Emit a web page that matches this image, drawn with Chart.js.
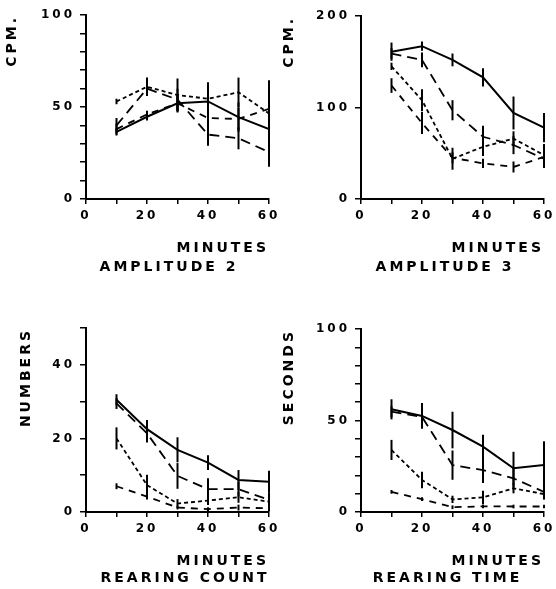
<!DOCTYPE html>
<html>
<head>
<meta charset="utf-8">
<script src="https://cdn.jsdelivr.net/npm/chart.js@4.4.1/dist/chart.umd.min.js"></script>
<style>
  html, body { margin: 0; padding: 0; background: #fff; overflow: hidden; width: 556px; height: 589px; }
  canvas { position: absolute; }
</style>
</head>
<body>
<canvas id="c1" width="338" height="290" style="left:0px;top:0px;width:338px;height:290px"></canvas>
<canvas id="c2" width="334" height="290" style="left:278px;top:0px;width:334px;height:290px"></canvas>
<canvas id="c3" width="370" height="299" style="left:0px;top:290px;width:370px;height:299px"></canvas>
<canvas id="c4" width="339" height="299" style="left:278px;top:290px;width:339px;height:299px"></canvas>
<script>
// ---- data ----
const minutes = [10, 20, 30, 40, 50, 60];
const xTickLabels = [0, 20, 40, 60];

// Amplitude 2 (CPM.)
const amp2Solid  = [36.5, 44.7, 52, 53, 44.5, 38];
const amp2SolidErr = [2, 2, 5, 6, 8, 12];
const amp2Long   = [40, 60, 54, 35, 33, 25.5];
const amp2LongErr = [4, 4, 6, 6, 6, 8];
const amp2Short  = [53, 61, 56.5, 54.5, 58, 46.5];
const amp2ShortErr = [1.5, 5, 9, 9, 8, 18];
const amp2Mid    = [38, 46, 52, 44, 43.5, 49];
const amp2MidErr = [3, 2, 4, 6, 6, 4];
const amp2YTicks = [0, 50, 100];

// Amplitude 3 (CPM.)
const amp3Solid  = [161, 167, 152, 133, 94, 78];
const amp3SolidErr = [10, 5, 7, 10, 18, 16];
const amp3Long   = [159, 152, 97, 68, 59, 44];
const amp3LongErr = [6, 8, 11, 12, 10, 10];
const amp3Short  = [145, 108, 44, 57, 66, 48];
const amp3ShortErr = [4, 12, 12, 10, 8, 12];
const amp3Mid    = [124, 83, 45, 39, 35, 46];
const amp3MidErr = [8, 12, 6, 5, 6, 8];
const amp3YTicks = [0, 100, 200];

// Rearing count (NUMBERS)
const countSolid  = [30.5, 22.5, 16.9, 13.4, 8.7, 8.2];
const countSolidErr = [1.5, 2.5, 3.4, 2, 2.7, 3];
const countLong   = [29.5, 21.4, 9.8, 6.2, 6.2, 3.3];
const countLongErr = [1.5, 2.5, 3.5, 3, 2, 2];
const countShort  = [20, 7.3, 2.3, 3.1, 4, 2.8];
const countShortErr = [3, 2.8, 1.2, 1.2, 1.5, 1.5];
const countMid    = [7, 4.2, 1.2, 0.8, 1.2, 1];
const countMidErr = [0.8, 0.8, 0.5, 0.5, 0.8, 0.8];
const countYTicks = [0, 20, 40];

// Rearing time (SECONDS)
const timeSolid  = [56.1, 52.5, 44.8, 35.7, 23.9, 25.7];
const timeSolidErr = [5.5, 7, 10, 6.5, 9, 13];
const timeLong   = [54.8, 52, 25.6, 22.9, 18.4, 11];
const timeLongErr = [3, 5, 8, 7, 6, 4];
const timeShort  = [33.9, 17.5, 6.9, 8, 12.9, 9.8];
const timeShortErr = [5.5, 4.5, 2, 3.6, 2.7, 3];
const timeMid    = [11, 7, 2.6, 3.1, 3, 3];
const timeMidErr = [1, 1, 1, 1, 1, 1];
const timeYTicks = [0, 50, 100];

// ---- plugins ----
const SPACING = '3px';
const spacingPlugin = {
  id: 'spacing',
  beforeUpdate(chart) { chart.ctx.letterSpacing = SPACING; },
  beforeDraw(chart) { chart.ctx.letterSpacing = SPACING; }
};
const errorBarPlugin = {
  id: 'errorBars',
  afterDatasetsDraw(chart) {
    const { ctx, scales } = chart;
    const xs = scales.x, ys = scales.y;
    ctx.save();
    ctx.strokeStyle = '#000';
    ctx.lineWidth = 2;
    ctx.setLineDash([]);
    chart.data.datasets.forEach(ds => {
      if (!ds.errors) return;
      ds.data.forEach((p, j) => {
        const e = ds.errors[j];
        const px = xs.getPixelForValue(p.x);
        ctx.beginPath();
        ctx.moveTo(px, ys.getPixelForValue(Math.max(0, p.y - e)));
        ctx.lineTo(px, ys.getPixelForValue(p.y + e));
        ctx.stroke();
      });
    });
    ctx.restore();
  }
};

const FONT = "'DejaVu Sans', sans-serif";
const styles = {
  solid: { borderWidth: 2, borderDash: [] },
  long:  { borderWidth: 1.8, borderDash: [10, 6] },
  short: { borderWidth: 1.8, borderDash: [4, 3] },
  mid:   { borderWidth: 1.8, borderDash: [7, 6] }
};
function pts(vals) { return minutes.map((m, i) => ({ x: m, y: vals[i] })); }
function ds(vals, errs, style) {
  return Object.assign({ data: pts(vals), errors: errs, yAxisID: 'y', xAxisID: 'x', borderColor: '#000',
    pointRadius: 0, fill: false, tension: 0, borderCapStyle: 'butt' }, styles[style]);
}

function makePanel(id, p) {
  new Chart(document.getElementById(id), {
    type: 'line',
    data: { datasets: [
      ds(p.solid, p.solidErr, 'solid'),
      ds(p.long, p.longErr, 'long'),
      ds(p.short, p.shortErr, 'short'),
      ds(p.mid, p.midErr, 'mid')
    ]},
    options: {
      responsive: false,
      animation: false,
      devicePixelRatio: 1,
      layout: { padding: { top: p.padTop, left: 0, right: 0, bottom: 0 } },
      plugins: {
        legend: { display: false },
        tooltip: { enabled: false },
        title: {
          display: true, text: p.caption, position: 'bottom', align: 'center',
          color: '#000', font: { family: FONT, size: 14, weight: 'bold' },
          padding: { top: 0, bottom: p.capPadBottom }
        }
      },
      scales: {
        x: {
          type: 'linear', min: 0, max: 60,
          afterFit(s) { s.height = p.xHeight; },
          border: { display: true, color: '#000', width: 2 },
          grid: { drawOnChartArea: false, drawTicks: true, tickLength: 5, color: '#000', lineWidth: 1.5 },
          ticks: {
            stepSize: 10, color: '#000', padding: 5, maxRotation: 0,
            font: { family: FONT, size: 12, weight: 'bold' },
            callback: v => xTickLabels.includes(v) ? String(v) : ''
          },
          title: { display: true, text: 'MINUTES', align: 'end', color: '#000',
            font: { family: FONT, size: 14, weight: 'bold' }, padding: { top: 0, bottom: p.xTitlePad } }
        },
        y: {
          type: 'linear', position: 'left', min: 0, max: p.yMax,
          afterFit(s) { s.width = p.yWidth; },
          border: { display: true, color: '#000', width: 2 },
          grid: { drawOnChartArea: false, drawTicks: true, tickLength: 6, color: '#000', lineWidth: 1.5 },
          ticks: {
            stepSize: p.yStep, color: '#000', padding: 5,
            font: { family: FONT, size: 12, weight: 'bold' },
            callback: v => p.yLabels.includes(v) ? String(v) : ''
          },
          title: { display: true, text: p.yTitle, align: 'end', color: '#000',
            font: { family: FONT, size: 14, weight: 'bold' }, padding: { top: p.yTitlePad, bottom: 0 } }
        },
        // empty right-hand margin (reserves space so the caption centres as in the original)
        yMargin: {
          type: 'linear', position: 'right', min: 0, max: p.yMax,
          afterFit(s) { s.width = p.rightSpace; },
          border: { display: false },
          grid: { display: false },
          ticks: { display: false },
          title: { display: false }
        }
      }
    },
    plugins: [spacingPlugin, errorBarPlugin]
  });
}

makePanel('c1', {
  solid: amp2Solid, solidErr: amp2SolidErr, long: amp2Long, longErr: amp2LongErr,
  short: amp2Short, shortErr: amp2ShortErr, mid: amp2Mid, midErr: amp2MidErr,
  yMax: 100, yStep: 10, yLabels: amp2YTicks, yTitle: 'CPM.', caption: 'AMPLITUDE 2',
  padTop: 15, rightSpace: 69, yWidth: 86, xHeight: 59.6, capPadBottom: 14.6, xTitlePad: 2.2, yTitlePad: 3.6
});
makePanel('c2', {
  solid: amp3Solid, solidErr: amp3SolidErr, long: amp3Long, longErr: amp3LongErr,
  short: amp3Short, shortErr: amp3ShortErr, mid: amp3Mid, midErr: amp3MidErr,
  yMax: 200, yStep: 100, yLabels: amp3YTicks, yTitle: 'CPM.', caption: 'AMPLITUDE 3',
  padTop: 16, rightSpace: 68, yWidth: 83, xHeight: 59.6, capPadBottom: 14.6, xTitlePad: 2.2, yTitlePad: 2.6
});
makePanel('c3', {
  solid: countSolid, solidErr: countSolidErr, long: countLong, longErr: countLongErr,
  short: countShort, shortErr: countShortErr, mid: countMid, midErr: countMidErr,
  yMax: 50, yStep: 10, yLabels: countYTicks, yTitle: 'NUMBERS', caption: 'REARING COUNT',
  padTop: 38, rightSpace: 101, yWidth: 86, xHeight: 57.6, capPadBottom: 2.6, xTitlePad: 0.2, yTitlePad: 18
});
makePanel('c4', {
  solid: timeSolid, solidErr: timeSolidErr, long: timeLong, longErr: timeLongErr,
  short: timeShort, shortErr: timeShortErr, mid: timeMid, midErr: timeMidErr,
  yMax: 100, yStep: 10, yLabels: timeYTicks, yTitle: 'SECONDS', caption: 'REARING TIME',
  padTop: 39, rightSpace: 73, yWidth: 83, xHeight: 57.6, capPadBottom: 2.6, xTitlePad: 0.2, yTitlePad: 2.6
});
</script>
</body>
</html>
